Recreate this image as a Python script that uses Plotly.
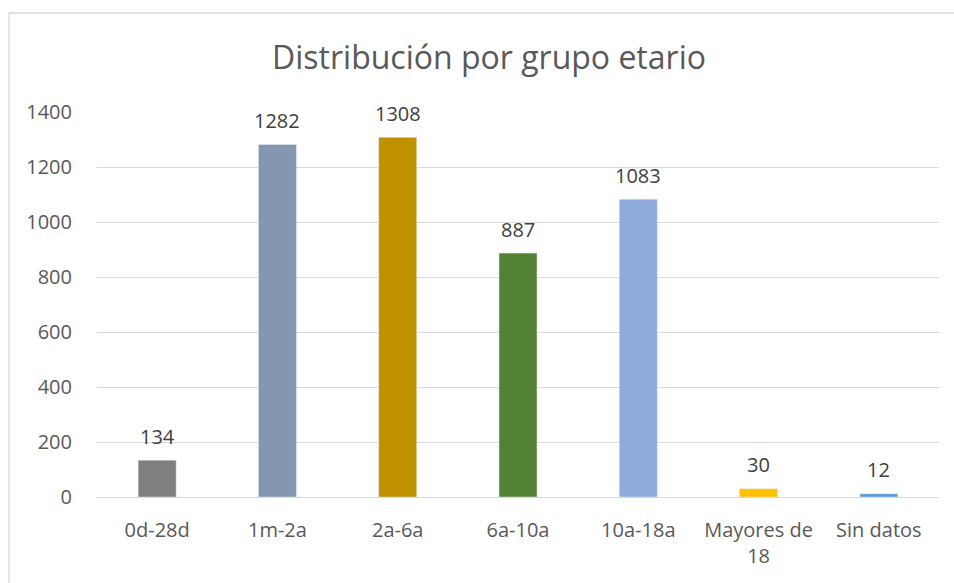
import plotly.graph_objects as go

categories = ["0d-28d", "1m-2a", "2a-6a", "6a-10a", "10a-18a", "Mayores de<br>18", "Sin datos"]
values = [134, 1282, 1308, 887, 1083, 30, 12]
colors = ["#7f7f7f", "#8497b0", "#bf9000", "#548235", "#8faadc", "#ffc000", "#5b9bd5"]
y_ticks = [0, 200, 400, 600, 800, 1000, 1200, 1400]

FONT = "Open Sans"
W, H = 954, 583
L, R, T, B = 97, 15, 112, 86
pw, ph = W - L - R, H - T - B

fig = go.Figure(go.Bar(
    x=categories, y=values, marker_color=colors, width=0.316,
    hoverinfo="x+y",
))

for c, v in zip(categories, values):
    fig.add_annotation(x=c, y=v, text=str(v), showarrow=False, yanchor="middle",
                       yshift=24, font=dict(family=FONT, size=20, color="#404040"))

# chart border (pixel-based, converted to paper coords)
fig.add_shape(type="rect", xref="paper", yref="paper",
              x0=(9 - L) / pw, x1=(W + 10 - L) / pw,
              y0=(H - B - (H + 10)) / ph, y1=(H - B - 13) / ph,
              line=dict(color="#d9d9d9", width=1.3), fillcolor="rgba(0,0,0,0)", layer="below")

fig.update_layout(
    width=W, height=H,
    margin=dict(l=L, r=R, t=T, b=B, autoexpand=False),
    paper_bgcolor="white", plot_bgcolor="white",
    showlegend=False,
    title=dict(text="Distribución por grupo etario", x=489 / W, xanchor="center",
               y=1 - 58 / H, yanchor="middle",
               font=dict(family=FONT, size=32, color="#595959")),
    font=dict(family=FONT, color="#595959", size=20),
    xaxis=dict(showgrid=False, showline=False, ticks="", ticklabelstandoff=19,
               tickfont=dict(family=FONT, size=20, color="#595959")),
    yaxis=dict(range=[0, 1400], tickvals=y_ticks, showgrid=True, gridcolor="#d9d9d9", gridwidth=1.3,
               zeroline=True, zerolinecolor="#d9d9d9", zerolinewidth=1.3, showline=False,
               ticks="", ticklabelstandoff=24, tickfont=dict(family=FONT, size=20, color="#595959")),
)

fig.write_html("out.html", config={"displayModeBar": False},
               post_script="document.body.style.margin='0';document.body.style.overflow='hidden';")
